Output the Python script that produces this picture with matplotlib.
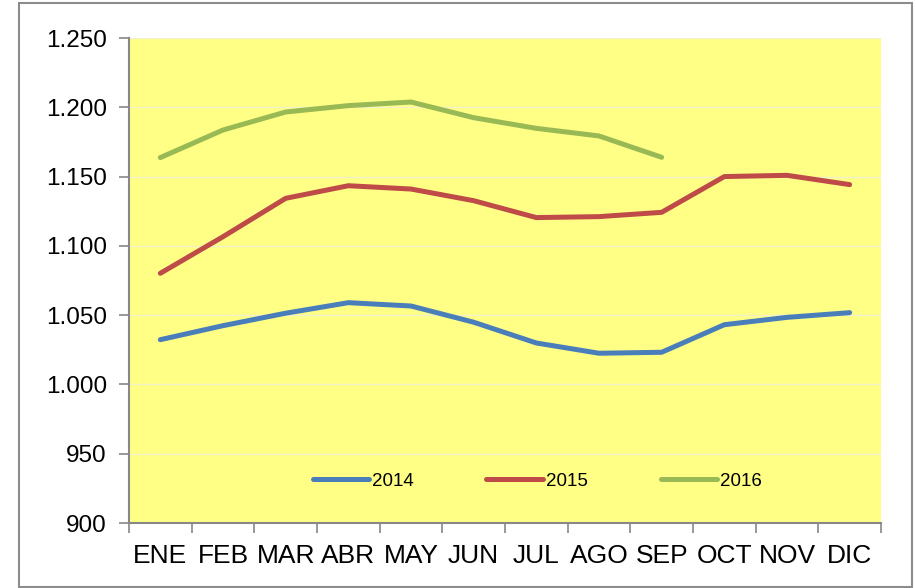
import matplotlib
matplotlib.use("Agg")
import matplotlib.pyplot as plt
import matplotlib.ticker as mticker
from matplotlib.patches import Rectangle
import numpy as np

plt.rcParams['font.family'] = ['Liberation Sans', 'DejaVu Sans']

months = ["ENE", "FEB", "MAR", "ABR", "MAY", "JUN", "JUL", "AGO", "SEP", "OCT", "NOV", "DIC"]
s2014 = [1032.3, 1042.4, 1051.4, 1059.0, 1056.6, 1044.9, 1029.9, 1022.5, 1023.2, 1043.1, 1048.4, 1051.8]
s2015 = [1080.2, 1106.6, 1134.3, 1143.4, 1141.0, 1132.6, 1120.4, 1121.1, 1124.2, 1150.0, 1150.9, 1144.2]
s2016 = [1163.7, 1183.6, 1196.6, 1201.2, 1203.8, 1192.5, 1184.8, 1179.3, 1163.9]
labels = ["2014", "2015", "2016"]
colors = ["#4A7EBB", "#BE4B48", "#98B954"]

fig = plt.figure(figsize=(9.16, 5.88), dpi=100)
fig.patch.set_facecolor("white")
ax = fig.add_axes([129/916, 1-523/588, (881-129)/916, (523-38)/588])
ax.set_facecolor("#FFFF85")

x = np.arange(len(months))
for series, lab, col in zip([s2014, s2015, s2016], labels, colors):
    ax.plot(x[:len(series)], series, color=col, lw=3.6, label=lab,
            solid_capstyle="round", solid_joinstyle="round", zorder=3)

ax.set_xlim(-0.5, len(months) - 0.5)
ax.set_ylim(900, 1250)
ax.yaxis.set_major_locator(mticker.MultipleLocator(50))
ax.yaxis.set_major_formatter(mticker.FuncFormatter(lambda v, p: f"{v:,.0f}".replace(",", ".")))
ax.grid(axis="y", color="#F2F2C8", lw=1, zorder=1)
ax.set_axisbelow(True)

ax.set_xticks(x)
ax.set_xticklabels(months)
ax.set_xticks(np.arange(-0.5, len(months) + 0.5, 1), minor=True)
ax.tick_params(axis="x", which="major", length=0, pad=15, labelsize=19)
ax.tick_params(axis="x", which="minor", length=7, color="#888888", width=1.2, direction="out")
ax.tick_params(axis="y", length=7, color="#888888", width=1.2, pad=9, labelsize=17.5)

for s in ["top", "right"]:
    ax.spines[s].set_visible(False)
for s in ["left", "bottom"]:
    ax.spines[s].set_color("#888888")
    ax.spines[s].set_linewidth(1.5)

leg = ax.legend(loc="center", bbox_to_anchor=(537/916, 1-481/588), bbox_transform=fig.transFigure,
                ncol=3, frameon=False, fontsize=13.5, handlelength=3.0, handletextpad=0.15,
                columnspacing=3.9)

fig.patches.append(Rectangle((19/916, 1-587/588), (912-19)/916, (587-3)/588,
                             transform=fig.transFigure, fill=False, edgecolor="#8C8C8C", lw=1.5))

fig.savefig("out.png", dpi=100)
